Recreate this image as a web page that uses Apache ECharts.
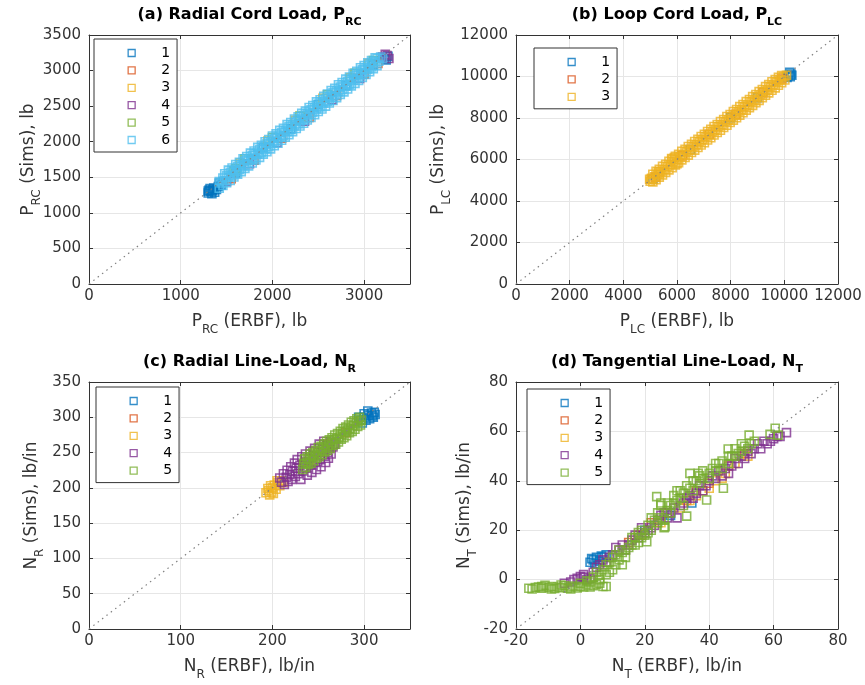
<!DOCTYPE html>
<html><head><meta charset="utf-8">
<script src="https://cdn.jsdelivr.net/npm/echarts@6/dist/echarts.min.js"></script>
<style>html,body{margin:0;padding:0;background:#fff}#c{width:865px;height:685px}</style>
</head><body><div id="c"></div>
<script>
const colors = ['#0072BD','#D95319','#EDB120','#7E2F8E','#77AC30','#4DBEEE'];

// ---------- panel (a) Radial Cord Load ----------
const a1 = [[1300,1280],[1310,1320],[1330,1300],[1340,1270],[1320,1340],[1350,1320],[1370,1290],[1300,1305],[1360,1350],[1390,1330],[1410,1370],[1420,1420],[1440,1390],[1460,1440],[1600,1560],[1900,1920],[2200,2180],[2500,2520],[2800,2790],[3100,3080],[3220,3170],[3260,3200],[3240,3150]];
const a2 = [[1550,1480],[1800,1740],[2100,2050],[2400,2340],[2700,2650],[3000,2950],[3150,3100]];
const a3 = [[1650,1700],[1950,2010],[2250,2300],[2550,2610],[2850,2900],[3050,3100]];
const a4 = [[1500,1440],[1750,1690],[2050,1990],[2350,2290],[2650,2590],[2950,2890],[3200,3190],[3250,3210],[3270,3170],[3230,3230]];
const a5 = [[1600,1620],[1580,1590],[1700,1760],[2000,2060],[2300,2360],[2600,2660],[2900,2960],[3100,3140]];
const a6 = [
 [1420,1345],[1460,1385],[1500,1425],[1540,1455],[1580,1505],[1620,1545],[1660,1580],[1700,1625],[1740,1660],[1780,1700],[1820,1745],[1860,1780],[1900,1825],[1940,1860],[1980,1900],[2020,1945],[2060,1980],[2100,2020],[2140,2065],[2180,2100],[2220,2140],[2260,2185],[2300,2220],[2340,2260],[2380,2305],[2420,2340],[2460,2380],[2500,2425],[2540,2460],[2580,2500],[2620,2545],[2660,2580],[2700,2620],[2740,2665],[2780,2700],[2820,2740],[2860,2785],[2900,2820],[2940,2860],[2980,2905],[3020,2945],[3060,2985],[3100,3025],[3140,3070],
 [1440,1420],[1480,1455],[1520,1500],[1560,1530],[1600,1580],[1640,1610],[1680,1660],[1720,1690],[1760,1740],[1800,1770],[1840,1820],[1880,1850],[1920,1900],[1960,1930],[2000,1980],[2040,2010],[2080,2060],[2120,2090],[2160,2140],[2200,2170],[2240,2220],[2280,2250],[2320,2300],[2360,2330],[2400,2380],[2440,2410],[2480,2460],[2520,2490],[2560,2540],[2600,2570],[2640,2620],[2680,2650],[2720,2700],[2760,2730],[2800,2780],[2840,2810],[2880,2860],[2920,2890],[2960,2940],[3000,2970],[3040,3020],[3080,3050],[3120,3100],[3160,3130],[3200,3170],
 [1420,1440],[1460,1490],[1500,1520],[1540,1570],[1580,1600],[1620,1650],[1660,1680],[1700,1730],[1740,1760],[1780,1810],[1820,1840],[1860,1890],[1900,1920],[1940,1970],[1980,2000],[2020,2050],[2060,2080],[2100,2130],[2140,2160],[2180,2210],[2220,2240],[2260,2290],[2300,2320],[2340,2370],[2380,2400],[2420,2450],[2460,2480],[2500,2530],[2540,2560],[2580,2610],[2620,2640],[2660,2690],[2700,2720],[2740,2770],[2780,2800],[2820,2850],[2860,2880],[2900,2930],[2940,2960],[2980,3010],[3020,3040],[3060,3090],[3100,3120],[3140,3170],[3180,3190],
 [1480,1550],[1520,1600],[1560,1630],[1600,1680],[1640,1710],[1680,1760],[1720,1790],[1760,1840],[1800,1870],[1840,1920],[1880,1950],[1920,2000],[1960,2030],[2000,2080],[2040,2110],[2080,2160],[2120,2190],[2160,2240],[2200,2270],[2240,2320],[2280,2350],[2320,2400],[2360,2430],[2400,2480],[2440,2510],[2480,2560],[2520,2590],[2560,2640],[2600,2670],[2640,2720],[2680,2750],[2720,2800],[2760,2830],[2800,2880],[2840,2910],[2880,2960],[2920,2990],[2960,3040],[3000,3070],[3040,3110],[3080,3140],[3120,3180]
];

// ---------- panel (b) Loop Cord Load ----------
const b1 = [[5100,5050],[6500,6480],[8000,8010],[9000,8980],[10150,10050],[10250,10120],[10200,10200],[10280,10060],[10100,9960],[10220,9990]];
const b2 = [[5200,5150],[6200,6180],[7200,7220],[8200,8180],[9200,9220],[9900,9880]];
const b3 = [
 [5000,4950],[4980,5050],[5050,5100],[5300,5400],[5350,5300],[5800,6050],[5900,6100],[6000,5800],
 [5100,4920],[5220,5030],[5340,5150],[5460,5250],[5580,5380],[5700,5500],[5820,5610],[5940,5740],[6060,5850],[6180,5980],[6300,6100],[6420,6210],[6540,6340],[6660,6450],[6780,6580],[6900,6700],[7020,6810],[7140,6940],[7260,7050],[7380,7180],[7500,7300],[7620,7410],[7740,7540],[7860,7650],[7980,7780],[8100,7900],[8220,8010],[8340,8140],[8460,8250],[8580,8380],[8700,8500],[8820,8610],[8940,8740],[9060,8850],[9180,8980],[9300,9100],[9420,9210],[9540,9340],[9660,9450],[9780,9580],[9900,9700],[10020,9830],
 [5040,5040],[5160,5170],[5280,5270],[5400,5420],[5520,5510],[5640,5660],[5760,5750],[5880,5900],[6000,6000],[6120,6140],[6240,6230],[6360,6380],[6480,6470],[6600,6620],[6720,6710],[6840,6860],[6960,6950],[7080,7100],[7200,7190],[7320,7340],[7440,7430],[7560,7580],[7680,7670],[7800,7820],[7920,7910],[8040,8060],[8160,8150],[8280,8300],[8400,8390],[8520,8540],[8640,8630],[8760,8780],[8880,8870],[9000,9020],[9120,9110],[9240,9260],[9360,9350],[9480,9500],[9600,9590],[9720,9740],[9840,9830],[9960,9980],[10080,10060],
 [5100,5290],[5220,5430],[5340,5530],[5460,5670],[5580,5770],[5700,5910],[5820,6010],[5940,6150],[6060,6250],[6180,6390],[6300,6490],[6420,6630],[6540,6730],[6660,6870],[6780,6970],[6900,7110],[7020,7210],[7140,7350],[7260,7450],[7380,7590],[7500,7690],[7620,7830],[7740,7930],[7860,8070],[7980,8170],[8100,8310],[8220,8410],[8340,8550],[8460,8650],[8580,8790],[8700,8890],[8820,9030],[8940,9130],[9060,9270],[9180,9370],[9300,9510],[9420,9610],[9540,9750],[9660,9850],[9780,9960],[9900,10050]
];

// ---------- panel (c) Radial Line-Load ----------
const c1 = [[296,296],[300,300],[302,296],[305,303],[308,306],[310,300],[306,298],[300,305],[298,292],[304,309],[311,307],[294,300],[309,302],[312,304]];
const c2 = [[240,236],[260,262],[280,278]];
const c3 = [[193,193],[196,196],[195,199],[199,194],[200,200],[202,204],[198,203],[204,198],[206,207],[208,203],[210,210],[205,210],[212,208],[197,190],[201,192]];
const c4 = [[208,214],[210,208],[212,220],[213,205],[215,215],[216,225],[217,209],[219,219],[220,230],[221,212],[222,224],[224,235],[225,216],[226,228],[227,240],[228,220],[230,232],[231,212],[232,244],[233,224],[235,236],[236,248],[237,228],[238,218],[240,242],[241,252],[242,232],[243,222],[245,246],[246,256],[247,236],[248,226],[250,250],[251,262],[252,240],[253,230],[255,255],[256,266],[257,245],[258,236],[259,260],[260,250],[261,242],[262,256],[263,265],[264,248],[266,258],[268,262]];
const c5 = [
 [233,226],[236,229],[239,233],[242,235],[245,238],[248,242],[251,244],[254,247],[257,251],[260,253],[263,256],[266,260],[269,262],[272,265],[275,269],[278,271],[281,274],[284,278],[287,280],[290,283],[293,287],[296,289],
 [234,234],[237,236],[240,240],[243,244],[246,246],[249,248],[252,252],[255,256],[258,258],[261,260],[264,264],[267,268],[270,270],[273,272],[276,276],[279,280],[282,282],[285,284],[288,288],[291,292],[294,294],[297,296],
 [235,241],[238,244],[241,248],[244,250],[247,253],[250,257],[253,259],[256,262],[259,266],[262,268],[265,271],[268,275],[271,277],[274,280],[277,284],[280,286],[283,289],[286,293],[289,295],[292,298],[295,300]
];

// ---------- panel (d) Tangential Line-Load ----------
const d1 = [[3,7],[4,8],[5,9],[6,7.5],[7,9],[8,10],[4.5,6.5],[3.5,8.5],[6.5,9.5],[34.6,31],[20,20],[28,26]];
const d2 = [[15,15],[22,23],[27,27],[33,32],[40,39],[46,46],[51,51],[19,18],[36,36]];
const d3 = [[18,18],[25,23],[31,29],[36,34],[38,36],[42,40],[45,43],[48,47],[52,50],[40,37],[44,41],[34,32]];
const d4 = [[-5,-1.5],[-3,-1],[-1,0.5],[0,1.2],[1,1],[2,0],[3,0.5],[5,5],[7,8],[9,9],[11,13],[12,12],[14,12],[16,16],[18,17],[20,19],[22,21],[24,24],[26,27],[28,27],[29,29],[30,25],[31,30],[32,31],[34,34],[35,33],[37,38],[38,36],[40,40],[42,41],[43,44],[45,45],[46,43],[48,49],[49,47],[50,50],[52,52],[53,51],[55,55],[56,53],[57,56],[58,55],[60,57],[62,58],[64,59.5],
 [-2,0],[1,2],[4,3],[6,6],[8,7],[10,10],[13,14],[15,14],[17,18],[19,21],[21,20],[23,22],[25,26],[27,25],[33,33],[36,35],[39,38],[41,42],[44,42],[47,46],[51,49],[54,53],[59,56],[61,58]];
const d5 = [[-16,-3.5],[-15,-3.8],[-14,-3.2],[-13,-3],[-12,-3.5],[-11,-2.3],[-10,-3.2],[-9,-2.8],[-8,-3.6],[-7,-3],[-6,-3.3],[-5,-2.5],[-4,-3.5],[-3,-3],[-2,-2.6],[-1,-3.4],[0,-2.8],[1,-3],[2,-2.2],[3,-3],[4,-2.5],[5,-2],[6,-1.5],[7,-2.8],[8,-2.8],
 [-12,-2.8],[-9,-3.8],[-6,-2.2],[-3,-3.8],[0,-1.5],[3,-1],[6,0],[8,2],
 [2,-0.5],[4,1],[5,3],[6,2],[7,4],[8,6],[9,3],[9,7],[10,4],[10,9],[11,6],[11,10],[12,8],[13,6],[13,11],[14,12],[15,13],[16,14],[17,17],[18,19],[18,15],[19,20],[20,18],[20.6,15.3],[21,22],[22,20],[23,24],[23.7,33.6],[24,27],[26.3,21.4],[25,30],[25,25],[26,21],[27,28],[28,30],[29,34],[30,36],[30,32],[31,33],[32,30],[33,25.7],[33,38],[34,43],[35,36],[36,40],[36.6,43],[37,42],[38,41],[39.2,32.2],[40,43],[41,45],[42,44],[43,47],[44.4,37],[44,48],[45.9,52.9],[46,47],[47,50],[48,53],[49,51],[50,52],[51,54],[52.4,58.5],[53,55],[58.9,58.8],[60.5,61.3],[61.4,58.5],
 [12,12],[14,9],[16,17],[17,14],[19,17],[21,19],[22,25],[24,23],[25,31],[26,24],[27,31],[28,27],[29,31],[31,36],[32,35],[34,37],[35,40],[37,39],[38,44],[40,41],[42,47],[44,45],[46,50],[48,50],[50,55],[52,53],[54,56]];

const panels = [
  {series:[a1,a2,a3,a4,a5,a6], range:[0,3500], xInt:1000, yInt:500},
  {series:[b1,b2,b3], range:[0,12000], xInt:2000, yInt:2000},
  {series:[c1,c2,c3,c4,c5], range:[0,350], xInt:100, yInt:50},
  {series:[d1,d2,d3,d4,d5], range:[-20,80], xInt:20, yInt:20}
];
const titles = [
  ['(a) Radial Cord Load, P','RC'],
  ['(b) Loop Cord Load, P','LC'],
  ['(c) Radial Line-Load, N','R'],
  ['(d) Tangential Line-Load, N','T']
];
const xNames = [['P','RC',' (ERBF), lb'],['P','LC',' (ERBF), lb'],['N','R',' (ERBF), lb/in'],['N','T',' (ERBF), lb/in']];
const yNames = [['P','RC',' (Sims), lb'],['P','LC',' (Sims), lb'],['N','R',' (Sims), lb/in'],['N','T',' (Sims), lb/in']];

const FONT = 'DejaVu Sans';
const AX = '#333333';
const grids = [
  {left:89, top:35, width:321, height:249},
  {left:516, top:35, width:322, height:249},
  {left:89, top:382, width:321, height:247},
  {left:516, top:382, width:322, height:247}
];
const legendBoxes = [
  {left:94, top:39}, {left:534, top:48}, {left:96, top:387}, {left:527, top:389}
];
const yNameGap = [51, 68, 48, 42];
const xShowMax = [false, true, false, true];

const nameRich = {
  m:{fontSize:17, fontFamily:FONT, color:AX, lineHeight:18, verticalAlign:'top'},
  s:{fontSize:12, fontFamily:FONT, color:AX, lineHeight:12, padding:[11,0,0,0], verticalAlign:'top'}
};
const titleRich = {
  m:{fontSize:16, fontFamily:FONT, fontWeight:'bold', color:'#000', lineHeight:18, verticalAlign:'top'},
  s:{fontSize:11, fontFamily:FONT, fontWeight:'bold', color:'#000', lineHeight:11, padding:[10,0,0,0], verticalAlign:'top'}
};
const plain = v => String(v);

const xAxis = [], yAxis = [], series = [], title = [], legend = [];
panels.forEach((p, i) => {
  const [mn, mx] = p.range;
  const common = {type:'value', gridIndex:i, min:mn, max:mx};
  xAxis.push(Object.assign({}, common, {
    interval:p.xInt, position:'bottom',
    axisLine:{show:true, onZero:false, lineStyle:{color:AX, width:1}},
    axisTick:{show:true, inside:true, length:4, lineStyle:{color:AX}},
    axisLabel:{show:true, margin:5, fontSize:15, fontFamily:FONT, color:AX, showMaxLabel:xShowMax[i], formatter:plain},
    splitLine:{show:true, lineStyle:{color:'#e6e6e6', width:1}},
    name:'{m|'+xNames[i][0]+'}{s|'+xNames[i][1]+'}{m|'+xNames[i][2]+'}',
    nameLocation:'middle', nameGap:29, nameMoveOverlap:false, nameTextStyle:{rich:nameRich}
  }));
  xAxis.push(Object.assign({}, common, {
    interval:p.xInt, position:'top',
    axisLine:{show:true, onZero:false, lineStyle:{color:AX, width:1}},
    axisTick:{show:true, inside:true, length:4, lineStyle:{color:AX}},
    axisLabel:{show:false}, splitLine:{show:false}
  }));
  yAxis.push(Object.assign({}, common, {
    interval:p.yInt, position:'left',
    axisLine:{show:true, onZero:false, lineStyle:{color:AX, width:1}},
    axisTick:{show:true, inside:true, length:4, lineStyle:{color:AX}},
    axisLabel:{show:true, margin:8, fontSize:15, fontFamily:FONT, color:AX, formatter:plain},
    splitLine:{show:true, lineStyle:{color:'#e6e6e6', width:1}},
    name:'{m|'+yNames[i][0]+'}{s|'+yNames[i][1]+'}{m|'+yNames[i][2]+'}',
    nameLocation:'middle', nameGap:yNameGap[i], nameRotate:90, nameMoveOverlap:false, nameTextStyle:{rich:nameRich}
  }));
  yAxis.push(Object.assign({}, common, {
    interval:p.yInt, position:'right',
    axisLine:{show:true, onZero:false, lineStyle:{color:AX, width:1}},
    axisTick:{show:true, inside:true, length:4, lineStyle:{color:AX}},
    axisLabel:{show:false}, splitLine:{show:false}
  }));
  const names = [];
  p.series.forEach((d, k) => {
    const nm = String(k+1);
    names.push({name:nm, itemStyle:{color:'rgba(0,0,0,0)', borderColor:colors[k], borderWidth:1.3}});
    series.push({
      type:'scatter', name:nm, data:d, xAxisIndex:2*i, yAxisIndex:2*i,
      symbol:'rect', symbolSize:8, animation:false, silent:true,
      itemStyle:{color:'rgba(0,0,0,0)', borderColor:colors[k], borderWidth:1.6}
    });
  });
  series.push({
    type:'line', data:[[mn,mn],[mx,mx]], xAxisIndex:2*i, yAxisIndex:2*i,
    symbol:'none', silent:true, animation:false, z:5,
    lineStyle:{color:'#808080', width:1.2, type:[1.5,4]}
  });
  const g = grids[i];
  title.push({
    text:'{m|'+titles[i][0]+'}{s|'+titles[i][1]+'}',
    left:g.left + g.width/2, top:g.top - 28, textAlign:'center', padding:0,
    textStyle:{rich:titleRich}
  });
  legend.push({
    orient:'vertical', left:legendBoxes[i].left, top:legendBoxes[i].top,
    data:names, icon:'rect', itemWidth:7, itemHeight:7, itemGap:3.4,
    padding:[7,7,5,33.5], borderColor:'#333', borderWidth:1, backgroundColor:'#fff',
    selectedMode:false,
    formatter:'{t|{name}}',
    textStyle:{rich:{t:{fontSize:14, fontFamily:FONT, color:'#000', lineHeight:14, padding:[0,0,0,21]}}}
  });
});

const chart = echarts.init(document.getElementById('c'), null, {renderer:'canvas'});
chart.setOption({
  backgroundColor:'#fff', animation:false,
  grid:grids, xAxis, yAxis, series, title, legend
});
</script></body></html>
